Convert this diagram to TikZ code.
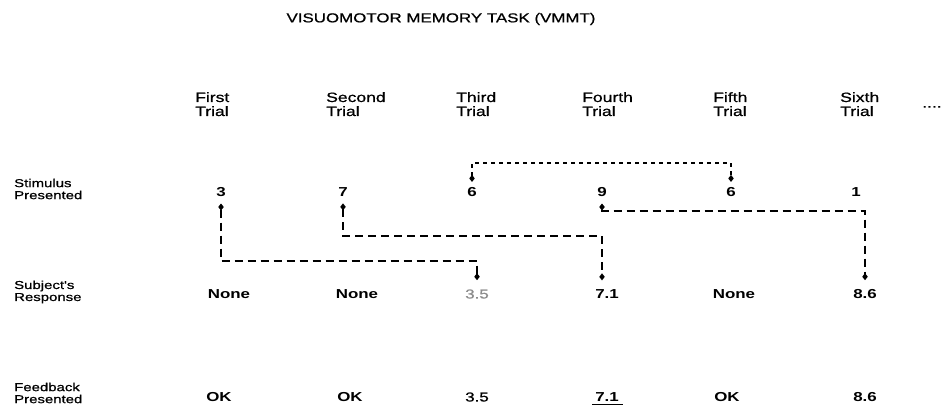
\documentclass[tikz,border=0pt]{standalone}
\usepackage{fontspec}
\setmainfont{Liberation Sans}[FakeStretch=1.3]
\newfontfamily\medfont{Liberation Sans}[FakeStretch=1.3, FakeBold=0.8]
\usetikzlibrary{arrows.meta}
\begin{document}
\begin{tikzpicture}[x=1pt,y=-1pt,
  ttl/.style={font=\medfont\fontsize{13}{13}\selectfont, inner sep=0pt},
  hdr/.style={anchor=north west, align=left, font=\medfont\fontsize{13.5}{14}\selectfont, inner sep=0pt},
  lbl/.style={anchor=west, align=left, font=\medfont\fontsize{11.5}{12}\selectfont, inner sep=0pt},
  val/.style={font=\bfseries\fontsize{13}{13}\selectfont, inner sep=5pt},
  valn/.style={font=\medfont\fontsize{13}{13}\selectfont, inner sep=5pt},
  conn/.style={line width=1.2pt, {Diamond[length=7pt,width=5.5pt]}-{Diamond[length=7pt,width=5.5pt]}},
  dline/.style={conn, dash pattern=on 8pt off 5pt},
  dotline/.style={conn, dash pattern=on 4pt off 4pt}
]
\useasboundingbox (0,0) rectangle (949,410);

\node[ttl] (title) at (441,19) {VISUOMOTOR MEMORY TASK (VMMT)};

% headers
\node[hdr] (h1) at (195,92) {First\\Trial};
\node[hdr] (h2) at (326,92) {Second\\Trial};
\node[hdr] (h3) at (456,92) {Third\\Trial};
\node[hdr] (h4) at (582,92) {Fourth\\Trial};
\node[hdr] (h5) at (713,92) {Fifth\\Trial};
\node[hdr] (h6) at (840,92) {Sixth\\Trial};
\node[hdr] (dots) at (922,106) {....};

% row labels
\node[lbl] (l1) at (14,189) {Stimulus\\Presented};
\node[lbl] (l2) at (14,292) {Subject's\\Response};
\node[lbl] (l3) at (14,393) {Feedback\\Presented};

% stimulus row
\node[val] (s1) at (221,191.7) {3};
\node[val] (s2) at (343,191.7) {7};
\node[val] (s3) at (472,191.7) {6};
\node[val] (s4) at (602,191.7) {9};
\node[val] (s5) at (731,191.7) {6};
\node[val] (s6) at (856,191.7) {1};

% response row
\node[val] (r1) at (229,294) {None};
\node[val] (r2) at (357,294) {None};
\node[valn, text=black!45] (r3) at (477,294) {3.5};
\node[val] (r4) at (607,294) {7.1};
\node[val] (r5) at (734,294) {None};
\node[val] (r6) at (865,294) {8.6};

% feedback row
\node[val] (f1) at (219,397) {OK};
\node[val] (f2) at (350,397) {OK};
\node[valn] (f3) at (477,397) {3.5};
\node[val] (f4) at (607,397) {7.1};
\node[val] (f5) at (727,397) {OK};
\node[val] (f6) at (865,397) {8.6};
\draw[line width=1pt] ([xshift=2pt,yshift=2pt]f4.south west) -- ([xshift=-1pt,yshift=2pt]f4.south east);

% connector levels
\coordinate (ya) at (0,163);
\coordinate (yb) at (0,211);
\coordinate (yc) at (0,236);
\coordinate (yd) at (0,261);

\draw[dotline] (s3.north) -- (ya -| s3) -- (ya -| s5) -- (s5.north);
\draw[dline, shorten >=4pt, shorten <=2pt] (s4.south) -- (yb -| s4) -- (yb -| r6) -- (r6.north);
\draw[dline, shorten >=4pt, shorten <=2pt] (s2.south) -- (yc -| s2) -- (yc -| s4) -- (s4 |- r4.north);
\draw[dline, shorten >=4pt, shorten <=2pt] (s1.south) -- (yd -| s1) -- (yd -| r3) -- (r3.north);
\end{tikzpicture}
\end{document}
